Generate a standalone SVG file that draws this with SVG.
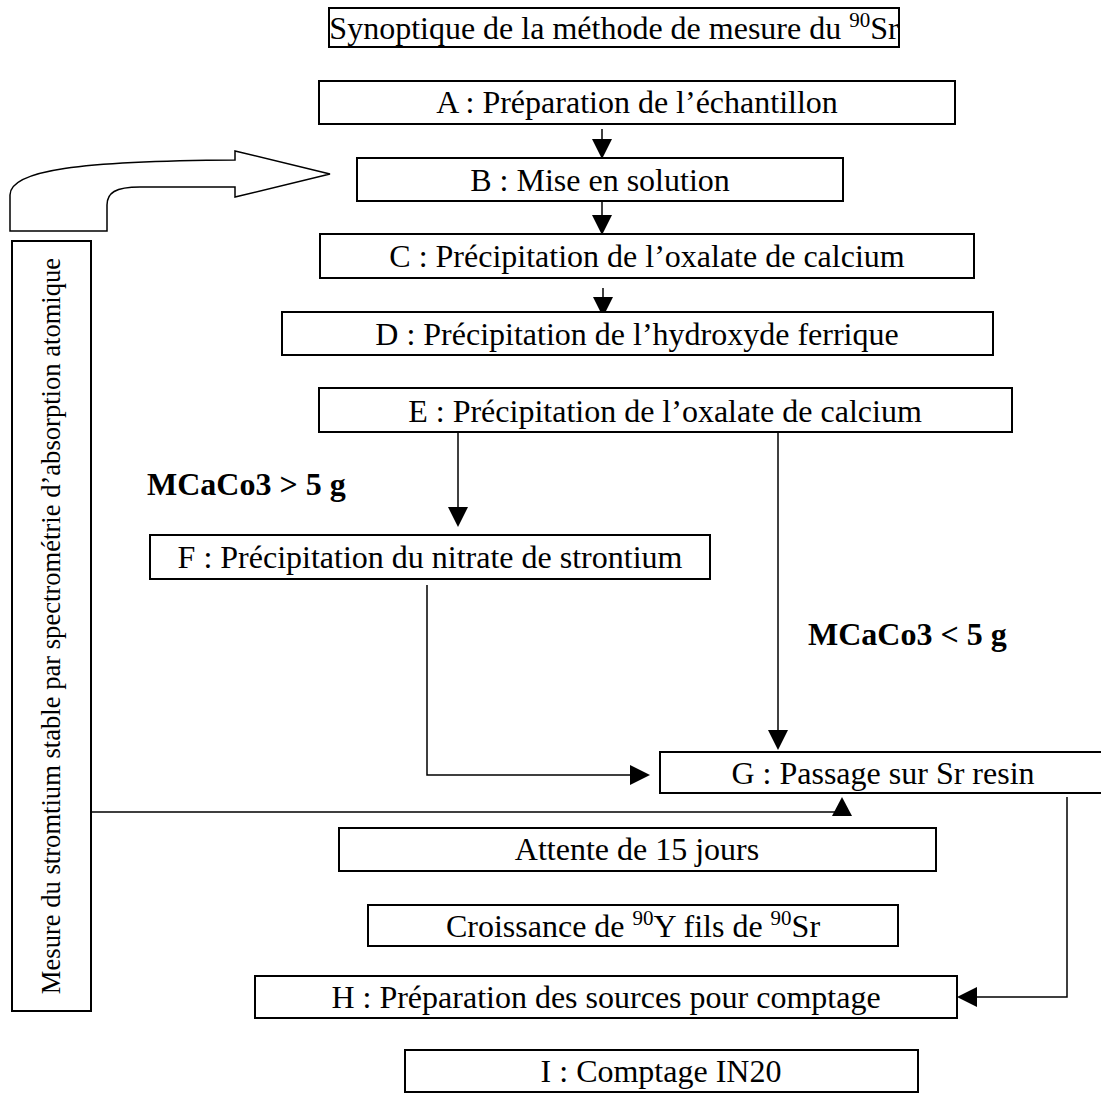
<svg xmlns="http://www.w3.org/2000/svg" width="1101" height="1097" viewBox="0 0 1101 1097">
<style>
.box{fill:#fff;stroke:#000;stroke-width:2}
.t{font-family:"Liberation Serif","Times New Roman",serif;font-size:32px;fill:#000;text-anchor:middle}
.b{font-family:"Liberation Serif","Times New Roman",serif;font-size:32px;font-weight:bold;fill:#000}
.sup{font-size:21px}
.ln{fill:none;stroke:#000;stroke-width:1.5}
.ah{fill:#000}
</style>
<rect width="1101" height="1097" fill="#fff"/>
<g id="title"><rect class="box" x="329" y="8" width="570" height="39"/><text class="t" x="614" y="39">Synoptique de la méthode de mesure du <tspan class="sup" dy="-12">90</tspan><tspan dy="12">Sr</tspan></text></g>
<g id="connectors">
<line class="ln" x1="602" y1="129" x2="602" y2="142"/><polygon class="ah" points="592,139 612,139 602,159"/>
<line class="ln" x1="602" y1="193" x2="602" y2="218"/><polygon class="ah" points="592,215 612,215 602,235"/>
<line class="ln" x1="603" y1="288" x2="603" y2="300"/><polygon class="ah" points="593,297 613,297 603,317"/>
<line class="ln" x1="458" y1="432" x2="458" y2="510"/><polygon class="ah" points="448,507 468,507 458,527"/>
<line class="ln" x1="778" y1="432" x2="778" y2="733"/><polygon class="ah" points="768,730 788,730 778,750"/>
<polyline class="ln" points="427,585 427,775 632,775"/><polygon class="ah" points="630,765 630,785 650,775"/>
<polyline class="ln" points="91,812 842,812 842,810"/><polygon class="ah" points="832,816 852,816 842,797"/>
<polyline class="ln" points="1067,797 1067,997 975,997"/><polygon class="ah" points="977,987 977,1007 957,997"/>
<path d="M10,231 L10,195 C10,170 80,161 235,160 L235,151 L330,174 L235,197 L235,187 L140,187 C115,187 107,193 107,205 L107,231 Z" fill="#fff" stroke="#000" stroke-width="1.5"/>
</g>
<g id="A"><rect class="box" x="319" y="81" width="636" height="43"/><text class="t" x="637" y="113">A : Préparation de l’échantillon</text></g>
<g id="B"><rect class="box" x="357" y="158" width="486" height="43"/><text class="t" x="600" y="191">B : Mise en solution</text></g>
<g id="C"><rect class="box" x="320" y="234" width="654" height="44"/><text class="t" x="647" y="267">C : Précipitation de l’oxalate de calcium</text></g>
<g id="D"><rect class="box" x="282" y="312" width="711" height="43"/><text class="t" x="637" y="345">D : Précipitation de l’hydroxyde ferrique</text></g>
<g id="E"><rect class="box" x="319" y="388" width="693" height="44"/><text class="t" x="665" y="422">E : Précipitation de l’oxalate de calcium</text></g>
<g id="labels"><text class="b" x="147" y="495">MCaCo3 &gt; 5 g</text><text class="b" x="808" y="645">MCaCo3 &lt; 5 g</text></g>
<g id="F"><rect class="box" x="150" y="535" width="560" height="44"/><text class="t" x="430" y="568">F : Précipitation du nitrate de strontium</text></g>
<g id="G"><rect class="box" x="660" y="752" width="445" height="41"/><text class="t" x="883" y="784">G : Passage sur Sr resin</text></g>
<g id="attente"><rect class="box" x="339" y="828" width="597" height="43"/><text class="t" x="637" y="860">Attente de 15 jours</text></g>
<g id="croissance"><rect class="box" x="368" y="905" width="530" height="41"/><text class="t" x="633" y="937">Croissance de <tspan class="sup" dy="-12">90</tspan><tspan dy="12">Y fils de </tspan><tspan class="sup" dy="-12">90</tspan><tspan dy="12">Sr</tspan></text></g>
<g id="H"><rect class="box" x="255" y="976" width="702" height="42"/><text class="t" x="606" y="1008">H : Préparation des sources pour comptage</text></g>
<g id="I"><rect class="box" x="405" y="1050" width="513" height="42"/><text class="t" x="661" y="1082">I : Comptage IN20</text></g>
<g id="mesure"><rect class="box" x="12" y="241" width="79" height="770"/><text class="t" style="font-size:26.6px" transform="translate(60,626) rotate(-90)">Mesure du stromtium stable par spectrométrie d’absorption atomique</text></g>
</svg>
